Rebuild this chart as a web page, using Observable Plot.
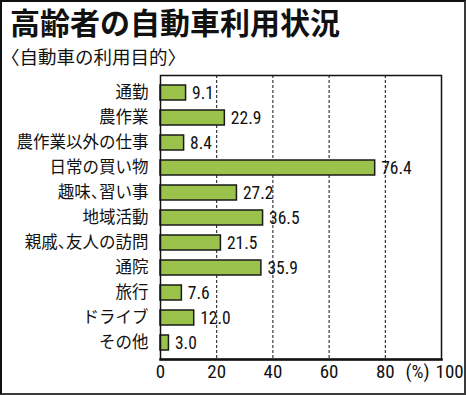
<!DOCTYPE html>
<html>
<head>
<meta charset="utf-8">
<script src="https://cdn.jsdelivr.net/npm/d3@7"></script>
<script src="https://cdn.jsdelivr.net/npm/@observablehq/plot@0.6"></script>
<style>
  html, body { margin: 0; padding: 0; background: #fff; }
  #wrap { position: relative; width: 466px; height: 395px; overflow: hidden; background: #fff; }
  #border { position: absolute; left: 0; top: 0; width: 462px; height: 391px; border: 2px solid #3a3a3a; border-left-color: #111; border-top-color: #111; pointer-events: none; }
  #title { position: absolute; left: 10px; top: 6px; font-family: "Noto Sans CJK JP", sans-serif; font-weight: 700; font-size: 30px; line-height: 30px; color: #111; white-space: nowrap; }
  #subtitle { position: absolute; left: 1px; top: 46px; font-family: "Noto Sans CJK JP", sans-serif; font-size: 18.5px; line-height: 20px; color: #111; white-space: nowrap; }
  #chart { position: absolute; left: 0; top: 68px; }
  #chart g[aria-label="y-axis tick label"] text { font-feature-settings: "halt" 1; }
</style>
</head>
<body>
<div id="wrap">
  <div id="title">高齢者の自動車利用状況</div>
  <div id="subtitle">〈自動車の利用目的〉</div>
  <div id="chart"></div>
  <div id="border"></div>
</div>
<script>
const categories = ["通勤", "農作業", "農作業以外の仕事", "日常の買い物", "趣味、習い事", "地域活動", "親戚、友人の訪問", "通院", "旅行", "ドライブ", "その他"];
const values = [9.1, 22.9, 8.4, 76.4, 27.2, 36.5, 21.5, 35.9, 7.6, 12.0, 3.0];
const tickValues = [0, 20, 40, 60, 80];
const gridValues = [20, 40, 60, 80];
const unitLabel = "(%)";
const lastTick = 100;

const data = categories.map((c, i) => ({category: c, value: values[i]}));
const numFont = '"Liberation Sans Narrow", "Roboto Condensed", "Liberation Sans", sans-serif';
const cjkFont = '"Noto Sans CJK JP", sans-serif';

const chart = Plot.plot({
  width: 466,
  height: 327,
  marginTop: 7,
  marginBottom: 36,
  marginLeft: 160,
  marginRight: 25,
  style: {background: "transparent", color: "#111"},
  x: {domain: [0, 100], axis: null},
  y: {domain: categories, paddingInner: 0.42, paddingOuter: 0.2, axis: null},
  marks: [
    Plot.ruleX(gridValues, {stroke: "#111", strokeWidth: 1, strokeDasharray: "3,2"}),
    Plot.barX(data, {x: "value", y: "category", fill: "#9bc34b", stroke: "#1a1a1a", strokeWidth: 1.5}),
    Plot.frame({stroke: "#111", strokeWidth: 1.5}),
    Plot.frame({anchor: "bottom", stroke: "#111", strokeWidth: 2.5}),
    Plot.axisY({tickSize: 0, tickPadding: 12, fontSize: 16.5, fontFamily: cjkFont, label: null}),
    Plot.text(data, {x: "value", y: "category", text: d => d.value.toFixed(1), dx: 6, textAnchor: "start", fontSize: 17.5, fontFamily: numFont, fill: "#111"}),
    Plot.text(tickValues, {x: d => d, frameAnchor: "bottom", lineAnchor: "top", dy: 5, text: d => String(d), fontSize: 19, fontFamily: numFont, fill: "#111"}),
    Plot.text([lastTick], {x: d => d, frameAnchor: "bottom", lineAnchor: "top", dy: 5, dx: -6, textAnchor: "start", text: d => String(d), fontSize: 19, fontFamily: numFont, fill: "#111"}),
    Plot.text([lastTick], {x: d => d, frameAnchor: "bottom", lineAnchor: "top", dy: 5, dx: -12, textAnchor: "end", text: () => unitLabel, fontSize: 19, fontFamily: numFont, fill: "#111"})
  ]
});
document.getElementById("chart").appendChild(chart);
</script>
</body>
</html>
